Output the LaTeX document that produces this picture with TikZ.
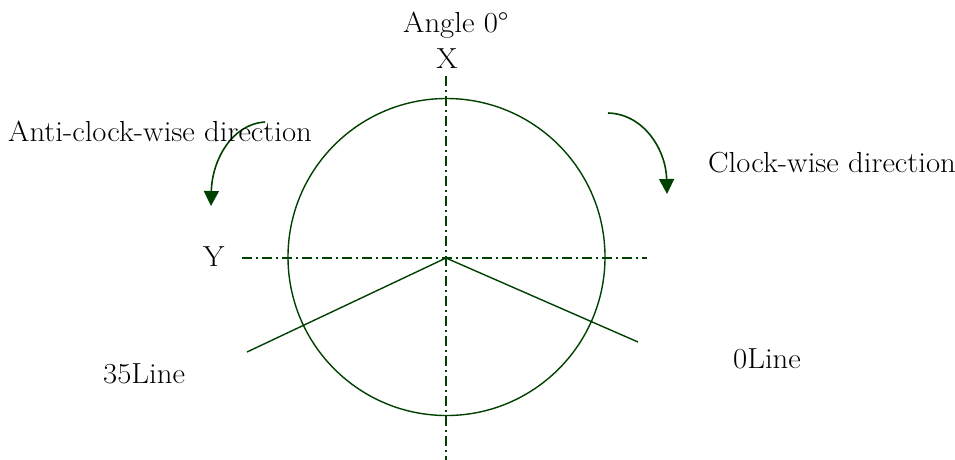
\documentclass[tikz,border=0pt]{standalone}
\usepackage{fontspec}
\setmainfont{Latin Modern Roman}[FakeStretch=1.06]
\usetikzlibrary{arrows.meta}
\definecolor{dgreen}{RGB}{0,64,0}
\begin{document}
\begin{tikzpicture}[x=1pt,y=-1pt,
  lbl/.style={font=\fontsize{29}{33}\selectfont, inner sep=0pt, anchor=base west},
  ln/.style={draw=dgreen, line width=1.4pt},
  axis/.style={draw=dgreen, line width=1.4pt, dash pattern=on 10pt off 4pt on 2pt off 4pt},
  arr/.style={draw=dgreen, line width=1.6pt, -{Triangle[length=15pt,width=15pt]}, fill=none}]
\useasboundingbox (0,0) rectangle (955,459);
\node[circle, draw=dgreen, line width=1.4pt, minimum size=317pt, inner sep=0pt] (c) at (446.5,257) {};
\coordinate (ytop) at (446,76);
\coordinate (ybot) at (446,460);
\coordinate (xl) at (242,258);
\coordinate (xr) at (647,258);
\coordinate (o) at (446,258);
\coordinate (l35) at (247,352);
\coordinate (l0) at (638,342);
\draw[axis] (ytop) -- (ybot);
\draw[axis] (xl) -- (xr);
\draw[ln] (o) -- (l35);
\draw[ln] (o) -- (l0);
\coordinate (a1s) at (265,122);
\coordinate (a1e) at (211,206);
\coordinate (a2s) at (608,113);
\coordinate (a2e) at (667,194);
\draw[arr] (a1s) .. controls (232,124) and (212,160) .. (a1e);
\draw[arr] (a2s) .. controls (644,114) and (666,150) .. (a2e);
\node[lbl] (angle) at (403,32) {Angle 0°};
\node[lbl, anchor=base] (X) at (447,68) {X};
\node[lbl] (anti) at (8,141) {Anti-clock-wise direction};
\node[lbl] (cw) at (708,172) {Clock-wise direction};
\node[lbl] (Y) at (203,266) {Y};
\node[lbl] (t35) at (103,383) {35Line};
\node[lbl] (t0) at (733,368) {0Line};
\end{tikzpicture}
\end{document}
